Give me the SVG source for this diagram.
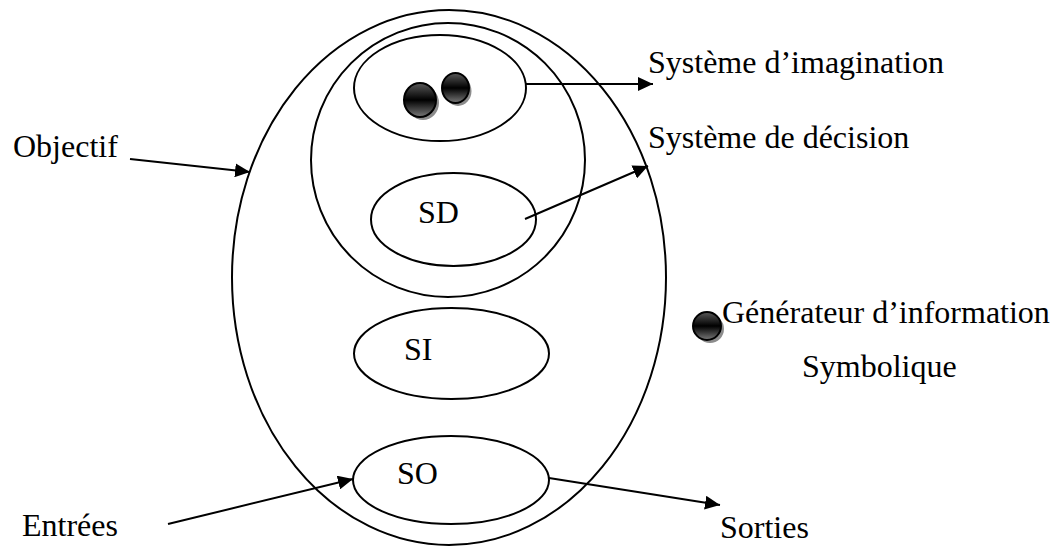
<svg xmlns="http://www.w3.org/2000/svg" width="1058" height="547" viewBox="0 0 1058 547">
  <style>
    .shape { fill: none; stroke: #000; stroke-width: 2; }
    .link { fill: none; stroke: #000; stroke-width: 2; marker-end: url(#head); }
    .label { font-family: "Liberation Serif", "Times New Roman", serif; font-size: 32px; fill: #000; }
    .ball { fill: url(#ballShade); stroke: #000; stroke-width: 2; }
    .ballShadow { fill: #8c8c8c; }
  </style>
  <defs>
    <marker id="head" viewBox="0 0 15 14" refX="15" refY="7" markerWidth="15" markerHeight="14" markerUnits="userSpaceOnUse" orient="auto">
      <path d="M0,0 L15,7 L0,14 Z" fill="#000"/>
    </marker>
    <linearGradient id="ballShade" x1="0" y1="0" x2="0" y2="1">
      <stop offset="0" stop-color="#5a5a5a"/>
      <stop offset="0.5" stop-color="#000"/>
      <stop offset="1" stop-color="#7a7a7a"/>
    </linearGradient>
  </defs>

  <!-- outer system boundary -->
  <g id="systeme">
    <ellipse class="shape" cx="449" cy="277.5" rx="217" ry="267.5"/>
  </g>

  <!-- imagination + decision block -->
  <g id="systeme-imagination-decision">
    <ellipse class="shape" cx="448" cy="160" rx="137" ry="137"/>
  </g>

  <g id="imagination">
    <ellipse class="shape" cx="440" cy="88" rx="86" ry="53"/>
    <ellipse class="ballShadow" cx="423" cy="103" rx="16" ry="17"/>
    <ellipse class="ball" cx="420" cy="100" rx="16" ry="17"/>
    <ellipse class="ballShadow" cx="458" cy="91" rx="13.5" ry="15"/>
    <ellipse class="ball" cx="455.5" cy="88" rx="13.5" ry="15"/>
  </g>

  <g id="SD">
    <ellipse class="shape" cx="453.5" cy="219.5" rx="82.5" ry="46.5"/>
    <text class="label" x="418" y="223">SD</text>
  </g>

  <g id="SI">
    <ellipse class="shape" cx="451.5" cy="353.5" rx="97.5" ry="45.5"/>
    <text class="label" x="404" y="360">SI</text>
  </g>

  <g id="SO">
    <ellipse class="shape" cx="451" cy="480" rx="98" ry="44"/>
    <text class="label" x="397" y="484">SO</text>
  </g>

  <!-- legend symbol for the information generator -->
  <g id="generateur">
    <ellipse class="ballShadow" cx="710" cy="329" rx="14" ry="14"/>
    <ellipse class="ball" cx="707" cy="326" rx="14" ry="14"/>
    <text class="label" x="722" y="323">Générateur d’information</text>
    <text class="label" x="802" y="377">Symbolique</text>
  </g>

  <!-- free labels -->
  <g id="labels">
    <text class="label" x="648" y="73">Système d’imagination</text>
    <text class="label" x="648" y="148">Système de décision</text>
    <text class="label" x="13" y="157">Objectif</text>
    <text class="label" x="22" y="536">Entrées</text>
    <text class="label" x="720" y="538">Sorties</text>
  </g>

  <!-- connectors -->
  <g id="connectors">
    <line class="link" x1="526" y1="84" x2="653" y2="84"/>
    <line class="link" x1="525" y1="219" x2="648" y2="166"/>
    <line class="link" x1="130" y1="159" x2="250" y2="172"/>
    <line class="link" x1="168" y1="524" x2="353" y2="479"/>
    <line class="link" x1="549" y1="478" x2="720" y2="505"/>
  </g>
</svg>
